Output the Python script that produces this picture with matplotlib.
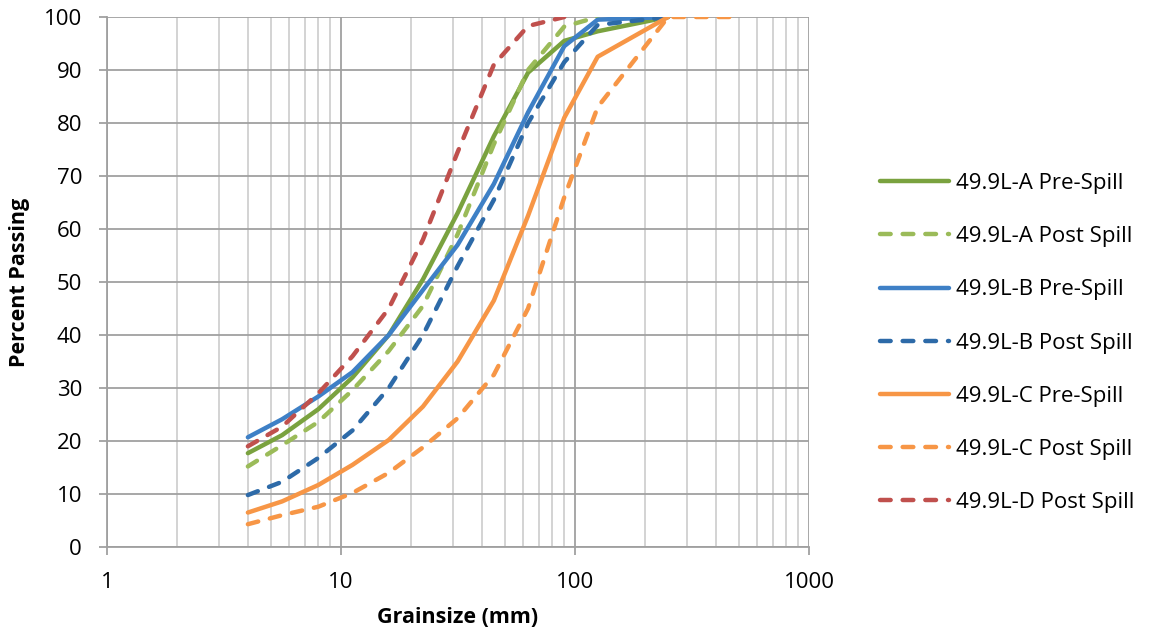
import matplotlib
matplotlib.use("Agg")
import matplotlib.pyplot as plt
from matplotlib.ticker import FixedLocator, NullFormatter

plt.rcParams['font.family'] = ['Open Sans', 'DejaVu Sans']

# sieve sizes (mm) and percent passing for each sample
a_pre_x = [4, 5.6, 8, 11.2, 16, 22.4, 31.5, 45, 63, 90, 125, 250]
a_pre = [17.7, 21.1, 26, 32, 40, 50.5, 63, 77.5, 89.5, 95.5, 97.3, 100]

a_post_x = [4, 5.6, 8, 11.2, 16, 22.4, 31.5, 45, 63, 90, 125]
a_post = [15.2, 19.2, 23.6, 29.6, 37, 45.5, 59, 76, 90, 98.2, 100]

b_pre_x = [4, 5.6, 8, 11.2, 16, 22.4, 31.5, 45, 63, 90, 125, 250]
b_pre = [20.7, 24.1, 28.4, 33, 40, 48.5, 57, 68.5, 82, 94.5, 99.5, 100]

b_post_x = [4, 5.6, 8, 11.2, 16, 22.4, 31.5, 45, 63, 90, 125, 180, 250]
b_post = [9.8, 12.3, 16.8, 22, 30, 40, 53, 65.5, 80, 91.5, 98.5, 99.3, 100]

c_pre_x = [4, 5.6, 8, 11.2, 16, 22.4, 31.5, 45, 63, 90, 125, 250]
c_pre = [6.5, 8.6, 11.7, 15.5, 20.2, 26.5, 35, 46.5, 62.5, 81, 92.5, 100]

c_post_x = [4, 5.6, 8, 11.2, 16, 22.4, 31.5, 45, 63, 90, 125, 250, 355, 500]
c_post = [4.3, 6.0, 7.6, 10.2, 14, 18.8, 24.3, 32.5, 45, 66, 83, 100, 100, 100]

d_post_x = [4, 5.6, 8, 11.2, 16, 22.4, 31.5, 45, 63, 90]
d_post = [19, 22.7, 29, 36, 45, 58, 74.5, 91, 98.3, 100]

series = [
    ("49.9L-A Pre-Spill", a_pre_x, a_pre, "#7AA23F", "-"),
    ("49.9L-A Post Spill", a_post_x, a_post, "#9BBB59", "--"),
    ("49.9L-B Pre-Spill", b_pre_x, b_pre, "#3E80C6", "-"),
    ("49.9L-B Post Spill", b_post_x, b_post, "#2D6AA8", "--"),
    ("49.9L-C Pre-Spill", c_pre_x, c_pre, "#F79646", "-"),
    ("49.9L-C Post Spill", c_post_x, c_post, "#F79646", "--"),
    ("49.9L-D Post Spill", d_post_x, d_post, "#C0504D", "--"),
]

fs = 16

fig = plt.figure(figsize=(11.51, 6.36), dpi=100)
ax = fig.add_axes([107 / 1151, 1 - 547 / 636, 702 / 1151, 530 / 636])

for label, x, y, color, ls in series:
    line, = ax.plot(x, y, color=color, lw=3.2, label=label,
                    solid_capstyle='round', dash_capstyle='round')
    if ls == "--":
        line.set_dashes((2.4, 2.7))

ax.set_xscale('log')
ax.set_xlim(1, 1000)
ax.set_ylim(0, 100)
ax.set_yticks(range(0, 101, 10))
ax.xaxis.set_major_locator(FixedLocator([1, 10, 100, 1000]))
ax.set_xticklabels(['1', '10', '100', '1000'])
minor = [m * d for d in (1, 10, 100) for m in range(2, 10)]
ax.xaxis.set_minor_locator(FixedLocator(minor))
ax.xaxis.set_minor_formatter(NullFormatter())

ax.grid(True, which='major', color='#A0A0A0', lw=1.3)
ax.grid(True, which='minor', axis='x', color='#C8C8C8', lw=1.1)
ax.set_axisbelow(True)

for side in ('top', 'right'):
    ax.spines[side].set_visible(False)
for side in ('left', 'bottom'):
    ax.spines[side].set_color('#A0A0A0')
    ax.spines[side].set_linewidth(1.3)

ax.tick_params(which='major', direction='out', length=6, width=1.3,
               color='#A0A0A0', labelsize=fs, labelcolor='black')
ax.tick_params(axis='y', which='major', pad=12)
ax.tick_params(axis='x', which='major', pad=12)
ax.tick_params(which='minor', length=0)

ax.set_xlabel('Grainsize (mm)', fontsize=fs - 0.5, fontweight='bold', labelpad=10)
ax.set_ylabel('Percent Passing', fontsize=fs - 0.5, fontweight='bold', labelpad=10)

fig.legend(loc='center left', bbox_to_anchor=(860 / 1151, 1 - 343 / 636),
           frameon=False, fontsize=fs, handlelength=3.1, labelspacing=1.45,
           handletextpad=0.3)

fig.savefig('out.png', dpi=100)
